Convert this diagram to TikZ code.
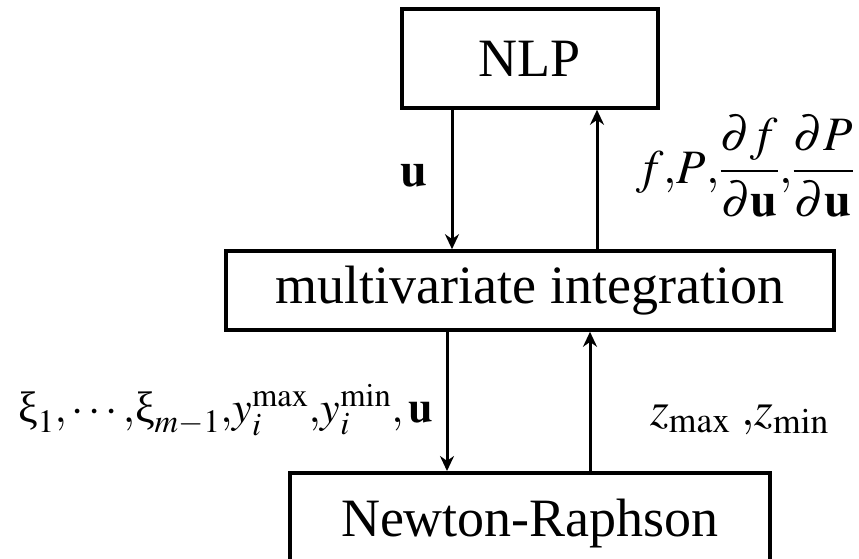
\documentclass[tikz,border=0pt]{standalone}
\usepackage{mathptmx}
\usepackage[no-math]{fontspec}
\setmainfont{Liberation Serif}
\usetikzlibrary{arrows.meta}

\begin{document}
\begin{tikzpicture}[x=1pt,y=-1pt,
  box/.style={draw,line width=3.6pt,font=\fontsize{54}{62}\selectfont,inner sep=0pt},
  arr/.style={-{Stealth[length=15pt,width=14pt]},line width=3pt},
  lbl/.style={font=\fontsize{48}{56}\selectfont,inner sep=0pt}]
  \useasboundingbox (0,0) rectangle (859,559);
  \clip (0,0) rectangle (859,559);
  % the three stages
  \node[box,minimum width=256,minimum height=99] (nlp) at (530,58.5) {NLP};
  \node[box,minimum width=608,minimum height=79] (mi) at (530,290.5) {multivariate integration};
  \node[box,minimum width=480,anchor=north,inner ysep=26] (nr) at (530,471) {Newton-Raphson};
  % data passed between them
  \draw[arr] ([xshift=-78]nlp.south) -- ([xshift=-78]mi.north);
  \draw[arr] ([xshift=67]mi.north) -- ([xshift=67]nlp.south);
  \draw[arr] ([xshift=-83]mi.south) -- ([xshift=-83]nr.north);
  \draw[arr] ([xshift=60]nr.north) -- ([xshift=60]mi.south);
  \node[lbl] (u) at (414,176) {$\mathbf{u}$};
  \node[lbl,anchor=east] (fp) at (854,166) {$f{,}P{,}\displaystyle\frac{\partial f}{\partial\mathbf{u}}{,}\frac{\partial P}{\partial\mathbf{u}}$};
  \node[lbl,anchor=west,font=\fontsize{44}{52}\selectfont] (xi) at (18,410) {$\mbox{ξ}_1{,}\cdots{,}\mbox{ξ}_{m-1}{,}y_i^{\max}{,}y_i^{\min}{,}\,\mathbf{u}$};
  \node[lbl,anchor=west] (z) at (650,420) {$z_{\max}\;{,}z_{\min}$};
\end{tikzpicture}
\end{document}
